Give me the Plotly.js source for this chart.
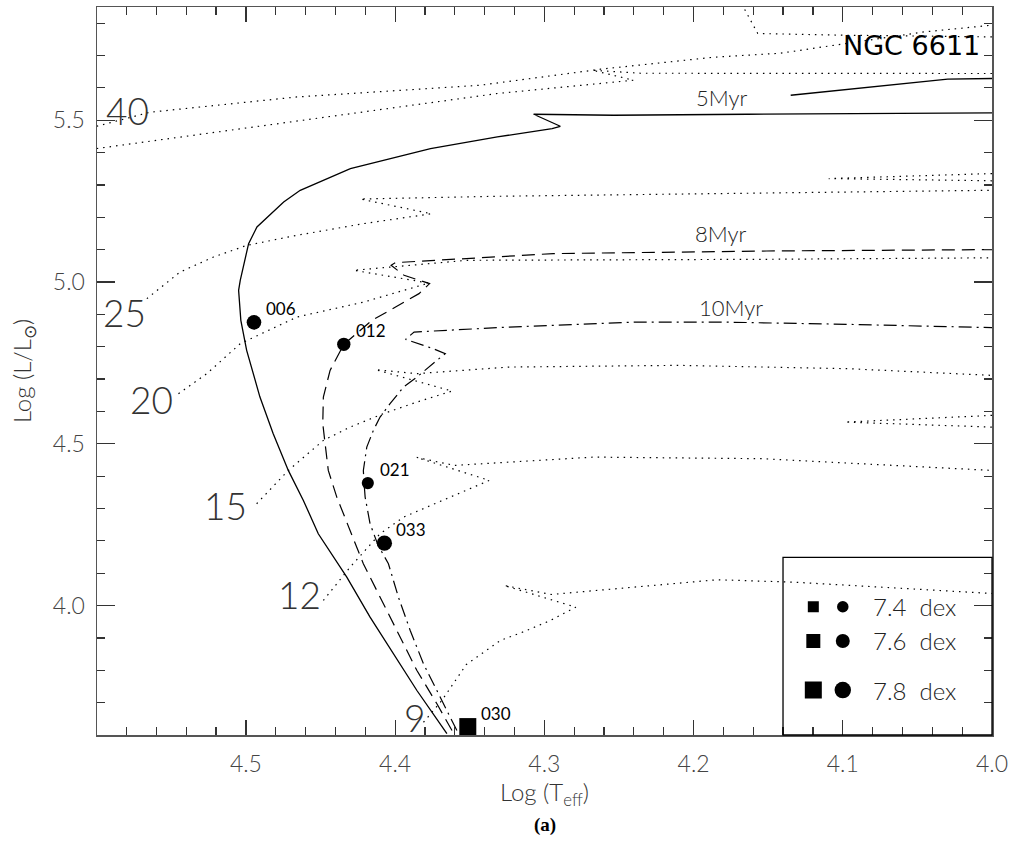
<!DOCTYPE html>
<html><head><meta charset="utf-8">
<script src="https://cdn.plot.ly/plotly-3.0.1.min.js"></script>
<style>html,body{margin:0;padding:0;background:#fff}#chart{width:1013px;height:865px}</style>
</head><body><div id="chart"></div>
<script>
// ---- Isochrones (log Teff, log L/Lsun) ----
const isoNames = ['5Myr', '8Myr', '10Myr'];
const iso5_logT = [4.3653,4.3854,4.4168,4.4324,4.4515,4.4615,4.4716,4.4817,4.4906,4.4995,4.5034,4.5049,4.5038,4.4982,4.4926,4.4747,4.4636,4.4300,4.3763,4.3315,4.2948,4.2893,4.3072,4.2535,4.1640,4.0000];
const iso5_logL = [3.6045,3.7375,3.9641,4.0878,4.2220,4.3250,4.4178,4.5312,4.6444,4.7888,4.8816,4.9743,5.0053,5.1187,5.1701,5.2474,5.2835,5.3506,5.4125,5.4484,5.4743,5.4814,5.5186,5.5155,5.5186,5.5226];
const iso5hi_logT = [4.1349,4.0297,4.0000];
const iso5hi_logL = [5.5773,5.6268,5.6290];
const iso8_logT = [4.3619,4.3720,4.3854,4.3989,4.4101,4.4213,4.4302,4.4391,4.4448,4.4470,4.4485,4.4481,4.4436,4.4344,4.4155,4.3997,4.3840,4.3769,4.3940,4.4027,4.3997,4.2940,4.1511,4.0000];
const iso8_logL = [3.6138,3.6964,3.7993,3.9230,4.0260,4.1293,4.2322,4.3352,4.4177,4.5003,4.5622,4.6444,4.7270,4.8074,4.8816,4.9227,4.9641,4.9951,5.0207,5.0516,5.0600,5.0878,5.0959,5.1002];
const iso10_logT = [4.3586,4.3698,4.3810,4.3899,4.3978,4.4045,4.4114,4.4168,4.4201,4.4208,4.4213,4.4190,4.4146,4.4101,4.4034,4.3944,4.3854,4.3720,4.3664,4.3746,4.3930,4.3873,4.3236,4.2387,4.1820,4.0970,4.0000];
const iso10_logL = [3.6138,3.7168,3.8200,3.9230,4.0260,4.1293,4.1858,4.2529,4.3352,4.3775,4.4177,4.4898,4.5414,4.5826,4.6240,4.6753,4.7062,4.7579,4.7786,4.7941,4.8228,4.8454,4.8609,4.8763,4.8763,4.8692,4.8590];

// ---- Evolutionary tracks (dotted) ----
const trackMasses = ['40', '25', '20', '15', '12', '9'];
const trk40a_logT = [4.6000,4.5644,4.4658,4.3430,4.2624,4.1866,4.1416,4.0993,4.0456,4.0000];
const trk40a_logL = [5.4814,5.5247,5.5720,5.6082,5.6577,5.6948,5.7072,5.7372,5.7730,5.7938];
const trk40b_logT = [4.6000,4.5309,4.4658,4.3315,4.2403,4.2678,4.2356,4.1282,4.0000];
const trk40b_logL = [5.4125,5.4567,5.4969,5.5826,5.6237,5.6546,5.6453,5.6444,5.6444];
const trkTop_logT = [4.1678,4.1570,4.0993,4.0000];
const trkTop_logL = [5.8600,5.7681,5.7628,5.7576];
const trk25_logT = [4.5664,4.5441,4.5217,4.4993,4.4658,4.4210,4.3758,4.4233,4.3315,4.1195,4.0000];
const trk25_logL = [4.9487,5.0309,5.0773,5.1135,5.1444,5.1806,5.2109,5.2566,5.2650,5.2783,5.2836];
const loop25_logT = [4.0000,4.1094,4.0000];
const loop25_logL = [5.3352,5.3197,5.3129];
const trk20_logT = [4.5452,4.5262,4.5038,4.4658,4.4210,4.3774,4.4277,4.3519,4.1537,4.0000];
const trk20_logL = [4.6549,4.7168,4.8095,4.8918,4.9382,4.9969,5.0362,5.0671,5.0702,5.0748];
const trk15_logT = [4.4928,4.4716,4.4481,4.4302,4.4079,4.3854,4.3619,4.4131,4.3854,4.3236,4.2103,4.0970,4.0000];
const trk15_logL = [4.3148,4.4177,4.5105,4.5516,4.5931,4.6289,4.6630,4.7291,4.7168,4.7372,4.7424,4.7322,4.7115];
const loop15_logT = [4.0000,4.0985,4.0000];
const loop15_logL = [4.5878,4.5671,4.5516];
const trk12_logT = [4.4481,4.4302,4.4101,4.3944,4.3631,4.3369,4.3856,4.3604,4.2670,4.1537,4.0000];
const trk12_logL = [4.0158,4.1187,4.2220,4.2733,4.3352,4.3868,4.4580,4.4332,4.4589,4.4539,4.4177];
const trk9_logT = [4.3810,4.3687,4.3523,4.3295,4.3134,4.2960,4.2789,4.3270,4.2954,4.1842,4.1331,4.0000];
const trk9_logL = [3.6394,3.7066,3.8179,3.8921,3.9200,3.9539,3.9950,4.0622,4.0343,4.0798,4.0724,4.0374];

// ---- Stars ----
const circNames = ['006', '012', '021', '033'];
const circLogT  = [4.4946, 4.4344, 4.4183, 4.4072];
const circLogL  = [4.8754, 4.8074, 4.3785, 4.1930];
const circAbund = [7.65, 7.55, 7.45, 7.70];
const sqNames = ['030'];
const sqLogT  = [4.3513];
const sqLogL  = [3.6260];
const sqAbund = [7.80];

// ---- Legend abundance levels ----
const legendAbund = [7.4, 7.6, 7.8];
const legendText = ['7.4  dex', '7.6  dex', '7.8  dex'];

function circSize(a){ return 11.5 + 12.5 * (a - 7.4); }
function sqSize(a){ return 11 + 15 * (a - 7.4); }

const thinFont = 'Lato, "DejaVu Sans", sans-serif';
const dotted = '1.5px,5px';
const lineW = 1.2;

function trackTrace(x, y){
  return {x:x, y:y, type:'scatter', mode:'lines', hoverinfo:'skip',
          line:{color:'#000', width:lineW, dash:dotted}};
}

const traces = [
  trackTrace(trk40a_logT, trk40a_logL),
  trackTrace(trk40b_logT, trk40b_logL),
  trackTrace(trkTop_logT, trkTop_logL),
  trackTrace(trk25_logT, trk25_logL),
  trackTrace(loop25_logT, loop25_logL),
  trackTrace(trk20_logT, trk20_logL),
  trackTrace(trk15_logT, trk15_logL),
  trackTrace(loop15_logT, loop15_logL),
  trackTrace(trk12_logT, trk12_logL),
  trackTrace(trk9_logT, trk9_logL),
  {x:iso5_logT, y:iso5_logL, type:'scatter', mode:'lines', line:{color:'#000', width:1.3}},
  {x:iso5hi_logT, y:iso5hi_logL, type:'scatter', mode:'lines', line:{color:'#000', width:1.3}},
  {x:iso8_logT, y:iso8_logL, type:'scatter', mode:'lines', line:{color:'#000', width:1.2, dash:'13px,7px'}},
  {x:iso10_logT, y:iso10_logL, type:'scatter', mode:'lines', line:{color:'#000', width:1.2, dash:'13px,5px,2px,5px'}},
  {x:circLogT, y:circLogL, type:'scatter', mode:'markers', opacity:1,
   marker:{symbol:'circle', color:'#000', opacity:1, size:circAbund.map(circSize), line:{width:0}}},
  {x:sqLogT, y:sqLogL, type:'scatter', mode:'markers', cliponaxis:false, opacity:1,
   marker:{symbol:'square', color:'#000', opacity:1, size:sqAbund.map(sqSize), line:{width:0}}},
  // legend symbols on an overlay axis inside the legend box
  {x:legendAbund.map(()=>0.145), y:[0.722,0.529,0.253], xaxis:'x2', yaxis:'y2', type:'scatter', mode:'markers', opacity:1,
   marker:{symbol:'square', color:'#000', opacity:1, size:legendAbund.map(sqSize), line:{width:0}}},
  {x:legendAbund.map(()=>0.286), y:[0.722,0.529,0.253], xaxis:'x2', yaxis:'y2', type:'scatter', mode:'markers', opacity:1,
   marker:{symbol:'circle', color:'#000', opacity:1, size:legendAbund.map(circSize), line:{width:0}}}
];

const annotations = [];
// isochrone labels
const isoLabelPos = [[4.1812,5.5711],[4.1819,5.1506],[4.1752,4.9218]];
isoNames.forEach((t,i)=>annotations.push({x:isoLabelPos[i][0], y:isoLabelPos[i][1], text:t, showarrow:false,
  xanchor:'center', yanchor:'middle', font:{family:thinFont, size:22, color:'#222', weight:300}}));
// mass labels
const massLabelPos = [[4.5792,5.5309],[4.5812,4.9063],[4.5631,4.6373],[4.5134,4.3098],[4.4638,4.0343],[4.3872,3.6539]];
trackMasses.forEach((t,i)=>annotations.push({x:massLabelPos[i][0], y:massLabelPos[i][1], text:t, showarrow:false,
  xanchor:'center', yanchor:'middle', font:{family:thinFont, size:37, color:'#333', weight:300}}));
// star labels
circNames.forEach((t,i)=>annotations.push({x:circLogT[i], y:circLogL[i], text:t, showarrow:false,
  xanchor:'left', yanchor:'bottom', xshift:10, yshift:1, font:{family:thinFont, size:17, color:'#000', weight:400}}));
sqNames.forEach((t,i)=>annotations.push({x:sqLogT[i], y:sqLogL[i], text:t, showarrow:false,
  xanchor:'left', yanchor:'bottom', xshift:11, yshift:1, font:{family:thinFont, size:17, color:'#000', weight:400}}));
// legend text
legendText.forEach((t,i)=>annotations.push({xref:'x2', yref:'y2', x:0.42, y:[0.722,0.529,0.253][i], text:t,
  showarrow:false, xanchor:'left', yanchor:'middle', font:{family:thinFont, size:24, color:'#222', weight:300}}));
// cluster name
annotations.push({xref:'paper', yref:'paper', x:0.9888, y:0.9478, text:'NGC 6611', showarrow:false,
  xanchor:'right', yanchor:'middle', font:{family:'"DejaVu Sans", sans-serif', size:27, color:'#000'}});
// panel caption
annotations.push({xref:'paper', yref:'paper', x:0.5006, y:-0.1236, text:'<b>(a)</b>', showarrow:false,
  xanchor:'center', yanchor:'middle', font:{family:'"Liberation Serif", serif', size:19, color:'#000'}});

const axisCommon = {
  ticks:'inside', tickcolor:'#333', tickwidth:1.2, showline:true, linecolor:'#555', linewidth:1.5,
  mirror:'ticks', showgrid:false, zeroline:false, tickformat:'.1f',
  tickfont:{family:thinFont, size:23, color:'#444', weight:300}
};

const layout = {
  width:1013, height:865,
  margin:{l:97, r:21, t:7, b:130},
  paper_bgcolor:'#fff', plot_bgcolor:'rgba(0,0,0,0)',
  showlegend:false,
  xaxis: Object.assign({}, axisCommon, {
    range:[4.5998, 4.0], tickmode:'linear', tick0:4.0, dtick:0.1, ticklen:15,
    minor:{tickmode:'linear', tick0:4.0, dtick:0.02, ticks:'inside', ticklen:8, tickcolor:'#333', tickwidth:1.2, showgrid:false},
    ticklabelstandoff:8,
    title:{text:'Log (T<sub>eff</sub>)', standoff:2, font:{family:thinFont, size:24, color:'#333', weight:300}}
  }),
  yaxis: Object.assign({}, axisCommon, {
    range:[3.6, 5.85], tickmode:'linear', tick0:0, dtick:0.5, ticklen:18,
    minor:{tickmode:'linear', tick0:0, dtick:0.1, ticks:'inside', ticklen:8, tickcolor:'#333', tickwidth:1.2, showgrid:false},
    ticklabelstandoff:6,
    title:{text:'Log (L/L<sub>⊙</sub>)', standoff:14, font:{family:thinFont, size:24, color:'#333', weight:300}}
  }),
  xaxis2:{domain:[0.7665,1], range:[0,1], visible:false, anchor:'y2', fixedrange:true},
  yaxis2:{domain:[0,0.2441], range:[0,1], visible:false, anchor:'x2', fixedrange:true},
  shapes:[
    {type:'rect', xref:'paper', yref:'paper', x0:0.7665, x1:1, y0:0, y1:0.2441, line:{color:'#000', width:1.3}, fillcolor:'rgba(0,0,0,0)'}
  ],
  annotations:annotations
};

Plotly.newPlot('chart', traces, layout, {displayModeBar:false, staticPlot:true});
</script>
</body></html>
